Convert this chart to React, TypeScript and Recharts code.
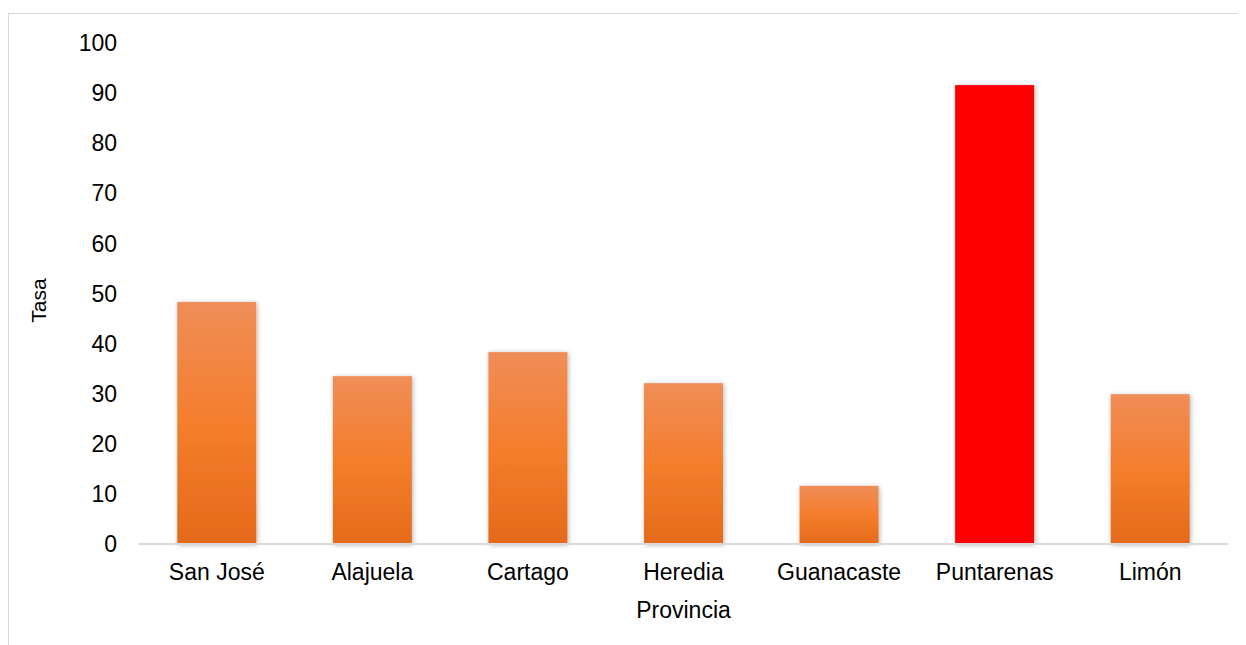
import React from 'react';
import { BarChart, Bar, XAxis, YAxis, Cell } from 'recharts';

const provinces = ['San José', 'Alajuela', 'Cartago', 'Heredia', 'Guanacaste', 'Puntarenas', 'Limón'];
const tasa = [48.3, 33.5, 38.3, 32.1, 11.6, 91.6, 29.9];
const yTicks = [0, 10, 20, 30, 40, 50, 60, 70, 80, 90, 100];
const highlight = 'Puntarenas';

const data = provinces.map((name, i) => ({ name, tasa: tasa[i] }));

const FONT = '"Liberation Sans", Arial, sans-serif';

const ShadowBar = (props: any) => {
  const { x, y, width, height, fill } = props;
  if (!height || height <= 0) return null;
  return <rect x={x} y={y} width={width} height={height} fill={fill} filter="url(#barShadow)" />;
};

const YTitle = (props: any) => {
  const { viewBox } = props;
  const cx = viewBox.x + 37;
  const cy = viewBox.y + viewBox.height / 2 + 7;
  return (
    <text x={cx} y={cy} transform={`rotate(-90, ${cx}, ${cy})`} textAnchor="middle"
      fontFamily={FONT} fontSize={21} fill="#000">
      Tasa
    </text>
  );
};

const XTitle = (props: any) => {
  const { viewBox } = props;
  const cx = viewBox.x + viewBox.width / 2;
  const cy = viewBox.y + 74;
  return (
    <text x={cx} y={cy} textAnchor="middle" fontFamily={FONT} fontSize={23} fill="#000">
      Provincia
    </text>
  );
};

const App: React.FC = () => {
  return (
    <div style={{ paddingTop: 5 }}>
      <div style={{ width: 1237, height: 631, borderLeft: '1px solid #d9d9d9', borderTop: '1px solid #d9d9d9', background: '#fff' }}>
        <BarChart width={1237} height={631} data={data} margin={{ top: 29, right: 18, left: 0, bottom: 0 }} barCategoryGap="24.6%">
          <defs>
            <linearGradient id="orangeGrad" x1="0" y1="0" x2="0" y2="1">
              <stop offset="0%" stopColor="#F08D58" />
              <stop offset="50%" stopColor="#F47E2C" />
              <stop offset="100%" stopColor="#E46A1A" />
            </linearGradient>
            <filter id="barShadow" x="-20%" y="-5%" width="140%" height="110%">
              <feDropShadow dx="1" dy="1" stdDeviation="2.5" floodColor="#000" floodOpacity="0.3" />
            </filter>
          </defs>
          <XAxis
            dataKey="name"
            height={101}
            tickLine={false}
            tickSize={0}
            tickMargin={20}
            axisLine={{ stroke: '#d9d9d9', strokeWidth: 2 }}
            tick={{ fill: '#000', fontSize: 23, fontFamily: FONT }}
            interval={0}
            label={{ content: <XTitle /> }}
          />
          <YAxis
            width={130}
            domain={[0, 100]}
            ticks={yTicks}
            tickLine={false}
            tickSize={0}
            tickMargin={22}
            axisLine={false}
            tick={{ fill: '#000', fontSize: 23, fontFamily: FONT }}
            label={{ content: <YTitle /> }}
          />
          <Bar dataKey="tasa" shape={<ShadowBar />} isAnimationActive={false}>
            {data.map((d) => (
              <Cell key={d.name} fill={d.name === highlight ? '#FF0000' : 'url(#orangeGrad)'} />
            ))}
          </Bar>
        </BarChart>
      </div>
    </div>
  );
};

export default App;
